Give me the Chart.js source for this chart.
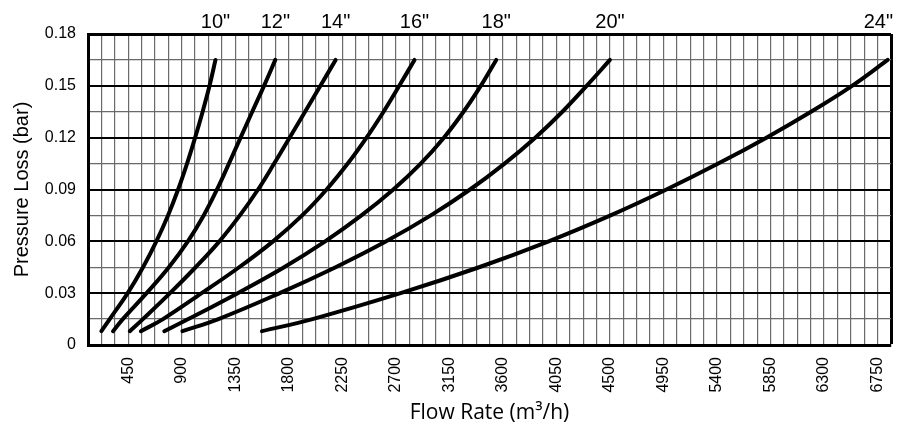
<!DOCTYPE html>
<html>
<head>
<meta charset="utf-8">
<script src="https://cdn.jsdelivr.net/npm/chart.js"></script>
<style>
  body { margin: 0; background: #fff; }
</style>
</head>
<body>
<canvas id="lossChart" width="903" height="428"></canvas>
<script>
// pressure levels (bar) read at each grid line, shared by all curves
const pressure = [0.008, 0.015, 0.03, 0.045, 0.06, 0.075, 0.09, 0.105, 0.12, 0.135, 0.15, 0.165]

// flow rate (m3/h) of each pipe size at those pressure levels
const flow10 = [225, 295, 446, 575, 687, 785, 870, 945, 1013, 1076, 1134, 1184]
const flow12 = [323, 405, 605, 792, 952, 1085, 1197, 1297, 1395, 1493, 1592, 1687]
const flow14 = [464, 574, 802, 1017, 1217, 1389, 1542, 1677, 1807, 1937, 2066, 2194]
const flow16 = [557, 743, 1068, 1383, 1668, 1913, 2118, 2296, 2454, 2597, 2729, 2857]
const flow18 = [754, 956, 1371, 1761, 2106, 2411, 2679, 2909, 3104, 3269, 3414, 3544]
const flow20 = [906, 1209, 1724, 2194, 2619, 2994, 3324, 3614, 3872, 4100, 4304, 4500]
const flow24 = [1575, 2000, 2740, 3400, 3985, 4505, 4975, 5410, 5815, 6190, 6535, 6835]

const sizes = ['10"', '12"', '14"', '16"', '18"', '20"', '24"']
const flows = [flow10, flow12, flow14, flow16, flow18, flow20, flow24]

const xMin = 112.5, xMax = 6862.5, xStep = 112.5, xLabelStep = 450
const yMax = 0.18, yStep = 0.015, yLabelStep = 0.03

const isMultiple = (v, s) => Math.abs(v / s - Math.round(v / s)) < 1e-6

// draws the size label above the end of each curve
const sizeLabels = {
    id: 'sizeLabels',
    afterDraw(chart) {
        const ctx = chart.ctx
        const xs = chart.scales.x
        ctx.save()
        ctx.font = '20px "Liberation Sans", Arial, sans-serif'
        ctx.fillStyle = '#000'
        ctx.textAlign = 'center'
        ctx.textBaseline = 'alphabetic'
        chart.data.datasets.forEach(ds => {
            const last = ds.data[ds.data.length - 1]
            const w = ctx.measureText(ds.label).width
            let px = xs.getPixelForValue(last.x)
            px = Math.min(px, chart.chartArea.right + 2 - w / 2)
            ctx.fillText(ds.label, px, 28)
        })
        ctx.restore()
    }
}

const datasets = sizes.map((s, i) => ({
    label: s,
    data: flows[i].map((f, k) => ({ x: f, y: pressure[k] })),
    borderColor: '#000',
    borderWidth: 4,
    borderCapStyle: 'round',
    pointRadius: 0,
    tension: 0.4,
    fill: false
}))

const tickFont = { family: '"Liberation Sans", Arial, sans-serif', size: 16 }

new Chart(document.getElementById('lossChart').getContext('2d'), {
    type: 'line',
    data: { datasets: datasets },
    options: {
        responsive: false,
        animation: false,
        layout: { padding: { top: 34, right: 12, left: 0, bottom: 0 } },
        plugins: {
            legend: { display: false },
            tooltip: { enabled: false }
        },
        scales: {
            x: {
                type: 'linear',
                min: xMin,
                max: xMax,
                afterFit: scale => {
                    scale.height = 83
                    scale.paddingLeft = 0
                    scale.paddingRight = 0
                },
                border: { color: '#000', width: 3 },
                grid: {
                    drawTicks: false,
                    color: c => c.tick && c.tick.value === xMax ? '#000' : '#6a6a6a',
                    lineWidth: c => c.tick && c.tick.value === xMax ? 3 : 1.2
                },
                ticks: {
                    stepSize: xStep,
                    autoSkip: false,
                    minRotation: 90,
                    maxRotation: 90,
                    padding: 12,
                    color: '#000',
                    font: tickFont,
                    callback: v => isMultiple(v, xLabelStep) ? String(v) : ''
                },
                title: {
                    display: true,
                    text: 'Flow Rate (m³/h)',
                    color: '#000',
                    font: { family: '"Open Sans", sans-serif', size: 21 },
                    padding: { top: 0, bottom: 2 }
                }
            },
            y: {
                min: 0,
                max: yMax,
                afterFit: scale => { scale.width = 88 },
                border: { color: '#000', width: 3 },
                grid: {
                    drawTicks: false,
                    color: c => isMultiple(c.tick.value, yLabelStep) ? '#000' : '#6a6a6a',
                    lineWidth: c => c.tick.value === yMax ? 3 : (isMultiple(c.tick.value, yLabelStep) ? 2 : 1.2)
                },
                ticks: {
                    stepSize: yStep,
                    padding: 12,
                    color: '#000',
                    font: tickFont,
                    callback: v => isMultiple(v, yLabelStep) ? (v === 0 ? '0' : v.toFixed(2)) : ''
                },
                title: {
                    display: true,
                    text: 'Pressure Loss (bar)',
                    color: '#000',
                    font: { family: '"Liberation Sans", Arial, sans-serif', size: 20 },
                    padding: { top: 10, bottom: 0 }
                }
            }
        }
    },
    plugins: [sizeLabels]
})
</script>
</body>
</html>
